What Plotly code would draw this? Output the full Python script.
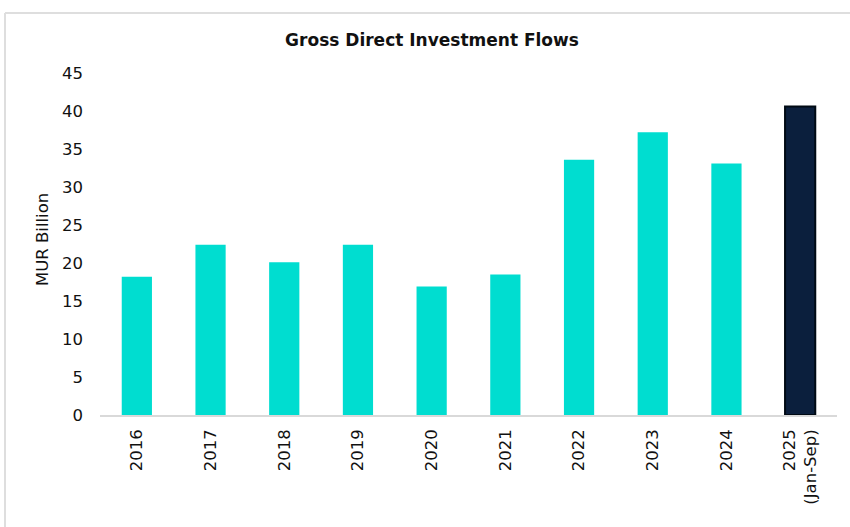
import plotly.graph_objects as go

categories = ["2016", "2017", "2018", "2019", "2020", "2021", "2022", "2023", "2024", "2025<br>(Jan-Sep)"]
values = [18.2, 22.4, 20.1, 22.4, 16.9, 18.5, 33.6, 37.2, 33.1, 40.6]
bar_colors = ["#00DDD0"] * 9 + ["#0B1F3D"]
line_colors = ["#00DDD0"] * 9 + ["#000A14"]
y_ticks = [0, 5, 10, 15, 20, 25, 30, 35, 40, 45]

W, H = 850, 527
ML, MR, MT, MB = 100, 13, 73, 112
pw, ph = W - ML - MR, H - MT - MB

fig = go.Figure(go.Bar(
    x=categories, y=values,
    marker=dict(color=bar_colors, line=dict(color=line_colors, width=[0]*9 + [2])),
    width=0.41,
))

font = "DejaVu Sans"
fig.update_layout(
    width=W, height=H,
    margin=dict(l=ML, r=MR, t=MT, b=MB, autoexpand=False),
    paper_bgcolor="white", plot_bgcolor="white",
    showlegend=False,
    title=dict(text="<b>Gross Direct Investment Flows</b>", x=432 / W, xanchor="center",
               y=1 - 40 / H, yanchor="middle", yref="container",
               font=dict(family=font, size=17, color="#111111")),
    font=dict(family=font, color="#111111"),
)
fig.update_xaxes(
    type="category", tickangle=-90, showgrid=False,
    showline=True, linecolor="#d9d9d9", linewidth=1.5,
    tickfont=dict(family=font, size=16.5, color="#111111"),
    ticks="", ticklabelstandoff=6,
)
fig.update_yaxes(
    range=[0, 45], tickvals=y_ticks, showgrid=False, zeroline=False, showline=False,
    tickfont=dict(family=font, size=16.5, color="#111111"),
    ticks="", ticklabelstandoff=16,
)
fig.add_annotation(
    text="MUR Billion", textangle=-90, xref="paper", yref="paper",
    x=(42 - ML) / pw, y=(MT + ph - 240) / ph, xanchor="center", yanchor="middle",
    showarrow=False, font=dict(family=font, size=16.5, color="#111111"),
)
# card border (top and left edges)
bx = (5 - ML) / pw
by = (MT + ph - 13) / ph
fig.add_shape(type="line", xref="paper", yref="paper", x0=bx, x1=(W - ML) / pw + 0.05, y0=by, y1=by,
              line=dict(color="#dedede", width=2))
fig.add_shape(type="line", xref="paper", yref="paper", x0=bx, x1=bx, y0=by, y1=-MB / ph - 0.05,
              line=dict(color="#dedede", width=2))

fig.write_html("out.html")
